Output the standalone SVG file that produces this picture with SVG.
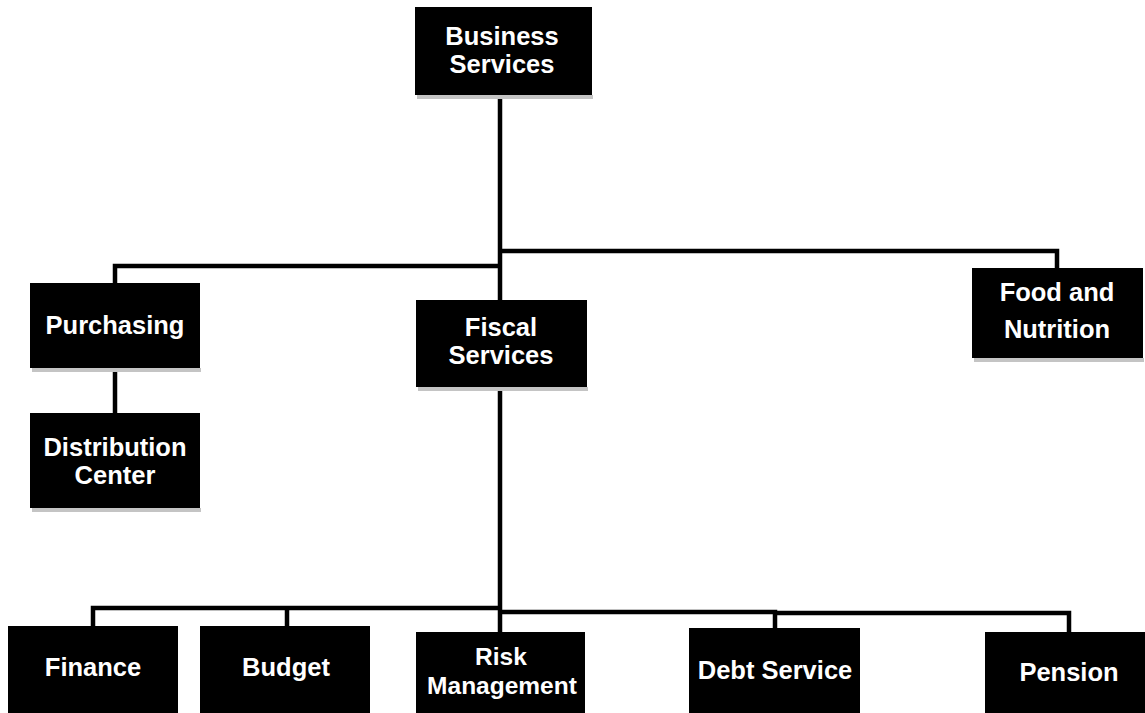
<svg xmlns="http://www.w3.org/2000/svg" width="1145" height="713" viewBox="0 0 1145 713">
<style>
.box{fill:#000}
.sh{fill:#c4c4c4}
.t{font-family:"Liberation Sans",Arial,sans-serif;font-weight:bold;font-size:25.5px;fill:#fff;text-anchor:middle}
.s{font-size:24.5px}
.c{fill:none;stroke:#000;stroke-width:4.5;stroke-linejoin:miter}
</style>
<rect width="1145" height="713" fill="#fff"/>
<g id="connectors">
<path class="c" d="M500 95 V300"/>
<path class="c" d="M500 387 V632"/>
<path class="c" d="M500 266 H115 V283"/>
<path class="c" d="M500 251 H1057 V268"/>
<path class="c" d="M115 368 V413"/>
<path class="c" d="M500 608 H93 V626"/>
<path class="c" d="M287 608 V626"/>
<path class="c" d="M500 612 H775 V628"/>
<path class="c" d="M775 613 H1069 V632"/>
</g>
<g id="business-services">
<rect class="sh" x="417" y="95" width="176" height="4"/>
<rect class="box" x="415" y="7" width="177" height="88"/>
<text class="t" x="502" y="45">Business</text>
<text class="t" x="502" y="73">Services</text>
</g>
<g id="purchasing">
<rect class="sh" x="32" y="368" width="169" height="4"/>
<rect class="box" x="30" y="283" width="170" height="85"/>
<text class="t" x="115" y="334">Purchasing</text>
</g>
<g id="distribution-center">
<rect class="sh" x="32" y="508" width="169" height="4"/>
<rect class="box" x="30" y="413" width="170" height="95"/>
<text class="t" x="115" y="456">Distribution</text>
<text class="t" x="115" y="484">Center</text>
</g>
<g id="fiscal-services">
<rect class="sh" x="418" y="387" width="170" height="4"/>
<rect class="box" x="416" y="300" width="171" height="87"/>
<text class="t" x="501" y="336">Fiscal</text>
<text class="t" x="501" y="364">Services</text>
</g>
<g id="food-and-nutrition">
<rect class="sh" x="974" y="358" width="170" height="4"/>
<rect class="box" x="972" y="268" width="171" height="90"/>
<text class="t" x="1057" y="301">Food and</text>
<text class="t" x="1057" y="338">Nutrition</text>
</g>
<g id="finance">
<rect class="box" x="8" y="626" width="170" height="87"/>
<text class="t" x="93" y="676">Finance</text>
</g>
<g id="budget">
<rect class="box" x="200" y="626" width="170" height="87"/>
<text class="t" x="286" y="676">Budget</text>
</g>
<g id="risk-management">
<rect class="box" x="416" y="632" width="169" height="81"/>
<text class="t s" x="501" y="665">Risk</text>
<text class="t s" x="502" y="694">Management</text>
</g>
<g id="debt-service">
<rect class="box" x="689" y="628" width="171" height="85"/>
<text class="t" x="775" y="679">Debt Service</text>
</g>
<g id="pension">
<rect class="box" x="985" y="632" width="160" height="81"/>
<text class="t" x="1069" y="681">Pension</text>
</g>
</svg>
